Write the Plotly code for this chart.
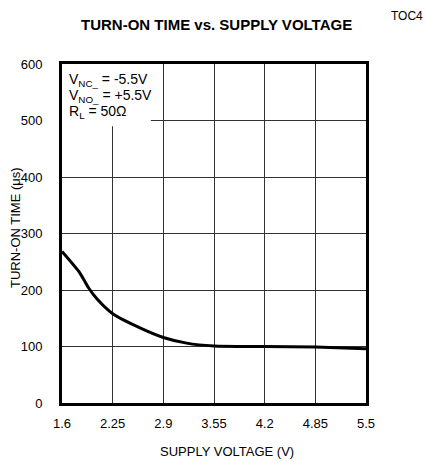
import plotly.graph_objects as go

# Data
supply_v = [1.6, 1.83, 1.94, 2.05, 2.26, 2.6, 2.9, 3.2, 3.55, 4.2, 4.85, 5.5]
turn_on_us = [268, 230, 204, 184, 157, 133, 116, 106, 101, 100, 99, 96]

x_ticks = [1.6, 2.25, 2.9, 3.55, 4.2, 4.85, 5.5]
x_tick_text = ["1.6", "2.25", "2.9", "3.55", "4.2", "4.85", "5.5"]
y_ticks = [0, 100, 200, 300, 400, 500, 600]

FONT = "Liberation Sans, Arial, sans-serif"

fig = go.Figure()
fig.add_trace(go.Scatter(x=supply_v, y=turn_on_us, mode="lines",
                         line=dict(color="black", width=3, shape="spline", smoothing=0.6),
                         showlegend=False, hoverinfo="skip"))

# white box behind the condition text (covers gridlines)
fig.add_shape(type="rect", xref="x", yref="y", x0=1.6, x1=2.74, y0=490, y1=600,
              fillcolor="white", line=dict(width=0), layer="between")

cond = [("V<sub>NC_</sub> = -5.5V", 572), ("V<sub>NO_</sub> = +5.5V", 544), ("R<sub>L</sub> = 50Ω", 515)]
for txt, yy in cond:
    fig.add_annotation(x=1.66, y=yy, xref="x", yref="y", text=txt, showarrow=False,
                       xanchor="left", yanchor="middle",
                       font=dict(family=FONT, size=14, color="black"))

fig.add_annotation(x=(216 - 62) / 304, y=(403.5 - 24) / 340, xref="paper", yref="paper",
                   text="<b>TURN-ON TIME vs. SUPPLY VOLTAGE</b>", showarrow=False,
                   xanchor="center", yanchor="middle",
                   font=dict(family=FONT, size=15, color="black"))
fig.add_annotation(x=(407 - 62) / 304, y=(403.5 - 15) / 340, xref="paper", yref="paper",
                   text="TOC4", showarrow=False, xanchor="center", yanchor="middle",
                   font=dict(family=FONT, size=12, color="black"))
fig.add_annotation(x=(15 - 62) / 304, y=(403.5 - 228) / 340, xref="paper", yref="paper",
                   text="TURN-ON TIME (μs)", showarrow=False, textangle=-90,
                   xanchor="center", yanchor="middle",
                   font=dict(family=FONT, size=13, color="black"))
fig.add_annotation(x=(227 - 62) / 304, y=(403.5 - 451.7) / 340, xref="paper", yref="paper",
                   text="SUPPLY VOLTAGE (V)", showarrow=False,
                   xanchor="center", yanchor="middle",
                   font=dict(family=FONT, size=13, color="black"))

fig.update_layout(
    width=425, height=462,
    margin=dict(l=62, r=59, t=63.5, b=58.5),
    paper_bgcolor="white", plot_bgcolor="white",
    font=dict(family=FONT, size=13, color="black"),
    xaxis=dict(range=[1.6, 5.5], tickvals=x_ticks, ticktext=x_tick_text,
               showgrid=True, gridcolor="#333333", gridwidth=1,
               showline=True, linecolor="black", linewidth=3, mirror=True,
               ticks="", ticklabelstandoff=6, zeroline=False, fixedrange=True),
    yaxis=dict(range=[0, 600], tickvals=y_ticks,
               showgrid=True, gridcolor="#333333", gridwidth=1,
               showline=True, linecolor="black", linewidth=3, mirror=True,
               ticks="", ticklabelstandoff=14, zeroline=False, fixedrange=True),
)

fig.write_html("out.html", config={"displayModeBar": False},
               post_script="document.body.style.margin='0';document.body.style.overflow='hidden';")
